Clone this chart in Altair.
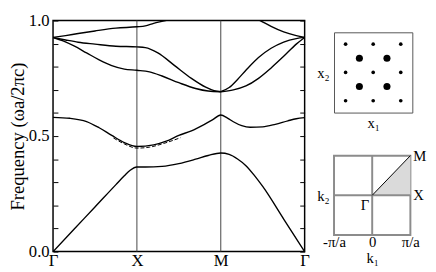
import altair as alt
import pandas as pd

FONT = "Liberation Serif"

# ---- band structure (k: Γ=0, X=1, M=2, Γ=3 ; f = ωa/2πc) ----
b1_k = [0, 0.25, 0.5, 0.75, 0.85, 0.92, 1.0, 1.1, 1.3, 1.5, 1.7, 1.85, 2.0, 2.1, 2.2, 2.3, 2.4, 2.5, 2.75, 3.0]
b1_f = [0, 0.097, 0.193, 0.29, 0.328, 0.352, 0.366, 0.366, 0.369, 0.381, 0.40, 0.416, 0.427, 0.421, 0.401, 0.372, 0.33, 0.282, 0.141, 0]

b2_k = [0, 0.2, 0.4, 0.55, 0.7, 0.85, 1.0, 1.2, 1.35, 1.5, 1.65, 1.8, 1.9, 2.0, 2.08, 2.15, 2.25, 2.35, 2.5, 2.65, 2.8, 2.9, 3.0]
b2_f = [0.581, 0.577, 0.563, 0.536, 0.503, 0.472, 0.455, 0.462, 0.478, 0.503, 0.523, 0.55, 0.57, 0.591, 0.578, 0.562, 0.545, 0.538, 0.54, 0.551, 0.566, 0.575, 0.58]

ua_k = [0, 0.12, 0.25, 0.4, 0.55, 0.7, 0.85, 1.0, 1.15, 1.3, 1.5, 1.7, 1.85, 2.0]
ua_f = [0.927, 0.912, 0.89, 0.86, 0.83, 0.805, 0.79, 0.785, 0.778, 0.76, 0.731, 0.706, 0.695, 0.692]

ub_k = [0, 0.15, 0.3, 0.5, 0.75, 1.0, 1.1, 1.25, 1.45, 1.65, 1.82, 1.92, 2.0]
ub_f = [0.927, 0.916, 0.906, 0.898, 0.889, 0.886, 0.883, 0.86, 0.805, 0.75, 0.712, 0.697, 0.692]

uc_k = [2.0, 2.15, 2.3, 2.45, 2.6, 2.75, 2.9, 3.0]
uc_f = [0.692, 0.70, 0.717, 0.75, 0.795, 0.845, 0.898, 0.927]

ud_k = [2.0, 2.1, 2.2, 2.3, 2.45, 2.6, 2.75, 2.9, 3.0]
ud_f = [0.692, 0.71, 0.745, 0.785, 0.84, 0.88, 0.907, 0.922, 0.927]

ue_k = [0, 0.15, 0.3, 0.5, 0.75, 1.0, 1.1, 1.2, 1.34, 1.45]
ue_f = [0.927, 0.935, 0.944, 0.955, 0.967, 0.973, 0.977, 0.988, 1.0, 1.012]

uf_k = [2.4, 2.47, 2.6, 2.75, 2.9, 3.0]
uf_f = [1.012, 1.0, 0.975, 0.951, 0.935, 0.927]

dash_k = [0.72, 0.85, 1.0, 1.15, 1.3, 1.52]
dash_f = [0.492, 0.466, 0.448, 0.452, 0.466, 0.493]

sym_k = [1, 2]
xtick_vals = [0, 1, 2, 3]
xtick_labels = ["Γ", "X", "M", "Γ"]
ytick_vals = [0, 0.1, 0.2, 0.3, 0.4, 0.5, 0.6, 0.7, 0.8, 0.9, 1.0]

# ---- inset 1: real-space lattice ----
small_x = [-0.5, 0, 0.5, -0.5, 0, 0.5, -0.5, 0, 0.5]
small_y = [0.5, 0.5, 0.5, 0, 0, 0, -0.5, -0.5, -0.5]
large_x = [-0.25, 0.25, -0.25, 0.25]
large_y = [0.25, 0.25, -0.25, -0.25]

# ---- inset 2: Brillouin zone ----
bz_tick_vals = [-1, 0, 1]
bz_tick_labels = ["-π/a", "0", "π/a"]
ibz_x = [0, 1]
ibz_y = [0, 1]
pt_right_x = [1, 1]
pt_right_y = [1, 0]
pt_right_t = ["M", "X"]
pt_gamma = ["Γ"]

# ---------------- main band plot ----------------
rows = []
for name, ks, fs in [("b1", b1_k, b1_f), ("b2", b2_k, b2_f), ("ua", ua_k, ua_f), ("ub", ub_k, ub_f),
                     ("uc", uc_k, uc_f), ("ud", ud_k, ud_f), ("ue", ue_k, ue_f), ("uf", uf_k, uf_f)]:
    for k, f in zip(ks, fs):
        rows.append({"band": name, "k": k, "f": f})
bands_df = pd.DataFrame(rows)
dash_df = pd.DataFrame({"k": dash_k, "f": dash_f})
sym_df = pd.DataFrame({"k": sym_k})

xscale = alt.Scale(domain=[0, 3], nice=False, zero=False)
yscale = alt.Scale(domain=[0, 1], nice=False, zero=False)

xlab_expr = "[" + ",".join("'%s'" % s for s in xtick_labels) + "][round(datum.value)]"
ylab_expr = "abs(datum.value*2 - round(datum.value*2)) < 0.001 ? format(datum.value, '.1f') : ''"

main_xaxis = alt.Axis(
    values=xtick_vals, labelExpr=xlab_expr, title=None, ticks=False, domain=False,
    grid=False, labelFontSize=17, labelPadding=1, labelFlush=False)
main_yaxis_left = alt.Axis(
    orient="left", values=ytick_vals, labelExpr=ylab_expr, labelOverlap=False,
    tickSize=5, offset=-5, domain=False, grid=False, labelPadding=4, labelFontSize=17,
    title="Frequency  (ωa/2πc)", titleFontSize=19, titleFontWeight="normal", titlePadding=1)
main_yaxis_right = alt.Axis(
    orient="right", values=ytick_vals, labels=False, tickSize=5, offset=-5,
    domain=False, grid=False, title=None)

rules = alt.Chart(sym_df).mark_rule(color="#444", strokeWidth=1).encode(
    x=alt.X("k:Q", scale=xscale, axis=main_xaxis)
)

bands = alt.Chart(bands_df).mark_line(
    color="black", strokeWidth=1.4, interpolate="monotone", clip=True
).encode(
    x=alt.X("k:Q", scale=xscale, axis=main_xaxis),
    y=alt.Y("f:Q", scale=yscale, axis=main_yaxis_left),
    detail="band:N",
)

dash = alt.Chart(dash_df).mark_line(
    color="black", strokeWidth=1, strokeDash=[4, 2], interpolate="monotone"
).encode(
    x=alt.X("k:Q", scale=xscale, axis=main_xaxis),
    y=alt.Y("f:Q", scale=yscale, axis=main_yaxis_right),
)

main = alt.layer(rules, bands, dash).properties(
    width=257, height=236,
    view=alt.ViewBackground(stroke="black", strokeWidth=1.5),
)

# ---------------- inset 1 ----------------
lat_df = pd.DataFrame({
    "x": small_x + large_x,
    "y": small_y + large_y,
    "kind": ["small"] * len(small_x) + ["large"] * len(large_x),
})
lscale = alt.Scale(domain=[-0.71, 0.71], nice=False, zero=False)
inset1 = alt.Chart(lat_df).mark_circle(color="black", opacity=1).encode(
    x=alt.X("x:Q", scale=lscale, axis=alt.Axis(
        labels=False, ticks=False, domain=False, grid=False, title="x₁",
        titleFontSize=15, titleFontWeight="normal", titlePadding=3)),
    y=alt.Y("y:Q", scale=lscale, axis=alt.Axis(
        labels=False, ticks=False, domain=False, grid=False, title="x₂",
        titleFontSize=15, titleFontWeight="normal", titleAngle=0, titleAlign="right",
        titleBaseline="middle", titlePadding=5)),
    size=alt.Size("kind:N", scale=alt.Scale(domain=["small", "large"], range=[14, 52]), legend=None),
).properties(
    width=80, height=82,
    view=alt.ViewBackground(stroke="#555", strokeWidth=1),
)

# ---------------- inset 2 ----------------
bscale = alt.Scale(domain=[-1, 1], nice=False, zero=False)
bzlab_expr = "[" + ",".join("'%s'" % s for s in bz_tick_labels) + "][round(datum.value)+1]"
ibz_df = pd.DataFrame({"x": ibz_x, "y": ibz_y})
zero_df = pd.DataFrame({"x": [0], "y": [0]})

bz_xaxis = alt.Axis(
    values=bz_tick_vals, labelExpr=bzlab_expr, ticks=False, domain=False, grid=False,
    labelFontSize=15, labelPadding=0, labelFlush=False, title="k₁", titleFontSize=15,
    titleFontWeight="normal", titlePadding=1)
bz_yaxis = alt.Axis(
    labels=False, ticks=False, domain=False, grid=False, title="k₂",
    titleFontSize=15, titleFontWeight="normal", titleAngle=0, titleAlign="right",
    titleBaseline="middle", titlePadding=5)
bx = alt.X("x:Q", scale=bscale, axis=bz_xaxis)
by = alt.Y("y:Q", scale=bscale, axis=bz_yaxis)

ibz = alt.Chart(ibz_df).mark_area(color="#dadada", opacity=1).encode(
    x=bx, y=by, y2=alt.datum(0),
)
vline = alt.Chart(zero_df).mark_rule(color="#8c8c8c", strokeWidth=2).encode(x=bx)
hline = alt.Chart(zero_df).mark_rule(color="#8c8c8c", strokeWidth=2).encode(y=by)
diag = alt.Chart(ibz_df).mark_line(color="black", strokeWidth=1).encode(x=bx, y=by)
lab_right = alt.Chart(pd.DataFrame({"x": pt_right_x, "y": pt_right_y, "t": pt_right_t})).mark_text(
    align="left", baseline="middle", dx=3, fontSize=15, color="black").encode(
    x=bx, y=by, text="t:N")
lab_gamma = alt.Chart(pd.DataFrame({"x": [0], "y": [0], "t": pt_gamma})).mark_text(
    align="right", baseline="middle", dx=-3, dy=10, fontSize=15, color="black").encode(
    x=bx, y=by, text="t:N")

inset2 = alt.layer(ibz, vline, hline, diag, lab_right, lab_gamma).properties(
    width=78, height=81,
    view=alt.ViewBackground(stroke="#8c8c8c", strokeWidth=2),
)

# blank spacer that lowers the inset column below the top of the band plot
spacer = alt.Chart(zero_df).mark_point(opacity=0).encode(
    x=alt.X("x:Q", axis=None), y=alt.Y("y:Q", axis=None)
).properties(width=1, height=10, view=alt.ViewBackground(stroke="transparent"))

right = alt.vconcat(spacer, alt.vconcat(inset1, inset2, spacing=17), spacing=0)

chart = alt.hconcat(main, right, spacing=5).properties(padding=0).configure(
    font=FONT
).configure_axis(
    labelColor="black", titleColor="black", tickColor="black", labelFont=FONT, titleFont=FONT
).configure_text(font=FONT).configure_title(font=FONT)

chart.save("out.html", embed_options={"renderer": "svg", "actions": False})
